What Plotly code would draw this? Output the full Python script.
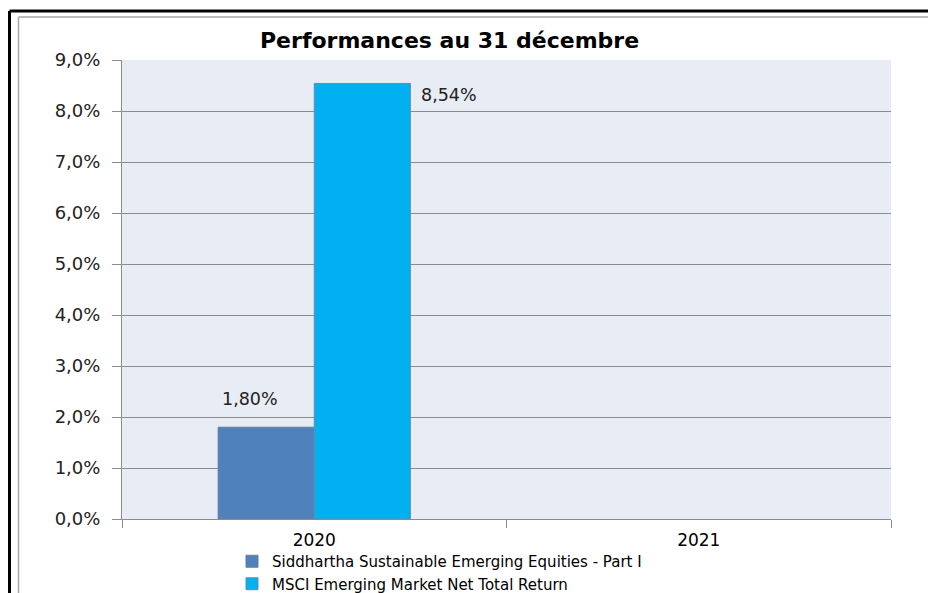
import plotly.graph_objects as go

categories = ["2020", "2021"]
siddhartha = [1.80, None]
msci = [8.54, None]
series_names = ["Siddhartha Sustainable Emerging Equities - Part I",
                "MSCI Emerging Market Net Total Return"]
yticks = [0, 1, 2, 3, 4, 5, 6, 7, 8, 9]
ytick_labels = ["0,0%", "1,0%", "2,0%", "3,0%", "4,0%", "5,0%", "6,0%", "7,0%", "8,0%", "9,0%"]

W, H = 928, 593
L, R, T, B = 122, 37, 60, 74
pw, ph = W - L - R, H - T - B

def px_x(p):
    return (p - L) / pw

def px_y(p):
    return 1 - (p - T) / ph

def fmt(v):
    return f"{v:.2f}%".replace(".", ",")

fig = go.Figure()
fig.add_trace(go.Bar(x=categories, y=siddhartha, name=series_names[0],
                     marker=dict(color="#4F81BD", line=dict(color="#6B7F95", width=1))))
fig.add_trace(go.Bar(x=categories, y=msci, name=series_names[1],
                     marker=dict(color="#00B0F0", line=dict(color="#5F8FB0", width=1))))

lab_font = dict(family="DejaVu Sans, Verdana", size=17.5, color="#222222")
fig.add_annotation(x=0, y=siddhartha[0], text=fmt(siddhartha[0]),
                   showarrow=False, xshift=-64, yshift=28, font=lab_font)
fig.add_annotation(x=0, y=msci[0], text=fmt(msci[0]),
                   showarrow=False, xshift=135, yshift=-12, font=lab_font)

fig.add_annotation(x=px_x(449), xref="paper", y=px_y(40), yref="paper",
                   xanchor="center", yanchor="middle",
                   text="<b>Performances au 31 décembre</b>", showarrow=False,
                   font=dict(family="DejaVu Sans", size=22, color="#000000"))

# outer frames (left and top edges visible in the crop)
for x0, y0, col, wd in [(9.5, 11, "#000000", 3), (18.5, 17, "#A6A6A6", 1.5)]:
    fig.add_shape(type="line", xref="paper", yref="paper",
                  x0=px_x(x0), x1=px_x(W + 5), y0=px_y(y0), y1=px_y(y0),
                  line=dict(color=col, width=wd))
    fig.add_shape(type="line", xref="paper", yref="paper",
                  x0=px_x(x0), x1=px_x(x0), y0=px_y(y0), y1=px_y(H + 5),
                  line=dict(color=col, width=wd))

fig.update_layout(
    width=W, height=H,
    margin=dict(l=L, r=R, t=T, b=B, autoexpand=False),
    paper_bgcolor="white",
    plot_bgcolor="#E8ECF5",
    barmode="group", bargap=0.5, bargroupgap=0,
    showlegend=True,
    legend=dict(orientation="v", x=px_x(232), xanchor="left", y=px_y(545), yanchor="top",
                font=dict(family="DejaVu Sans", size=15, color="#000000"),
                tracegroupgap=0, itemwidth=30, bgcolor="rgba(0,0,0,0)"),
    xaxis=dict(type="category", categoryorder="array", categoryarray=categories,
               tickson="boundaries", ticks="outside", ticklen=8, tickcolor="#8C8C8C",
               showline=True, linecolor="#8C8C8C", linewidth=1, showgrid=False,
               tickfont=dict(family="DejaVu Sans", size=17, color="#000000"),
               ticklabelstandoff=6, range=[-0.5, 1.5]),
    yaxis=dict(range=[0, 9], tickvals=yticks, ticktext=ytick_labels,
               ticks="outside", ticklen=9, tickcolor="#8C8C8C",
               showline=True, linecolor="#8C8C8C", linewidth=1,
               showgrid=True, gridcolor="#8C8C8C", gridwidth=1, zeroline=False,
               ticklabelstandoff=8,
               tickfont=dict(family="DejaVu Sans, Verdana", size=18, color="#222222")),
)

fig.write_html("out.html", config={"displayModeBar": False},
               post_script="document.body.style.margin='0';")
